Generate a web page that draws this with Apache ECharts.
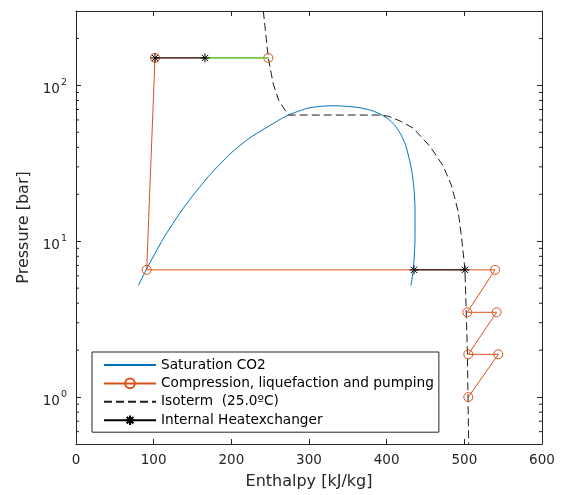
<!DOCTYPE html>
<html>
<head>
<meta charset="utf-8">
<script src="https://cdn.jsdelivr.net/npm/echarts@6/dist/echarts.min.js"></script>
<style>html,body{margin:0;padding:0;background:#fff}#c{width:564px;height:495px}</style>
</head>
<body>
<div id="c"></div>
<script>
// Saturation dome of CO2 (enthalpy kJ/kg, pressure bar)
const satH = [80.2, 91, 112.4, 131.7, 151, 172.5, 198.3, 224, 262.6, 273.3, 297, 314, 331.3, 348, 365.6, 381.1, 394, 404.3, 412, 418.4, 424.2, 428.7, 432.6, 435.2, 436.5, 436.5, 434.3, 431.3];
const satP = [5.2, 6.65, 10.4, 14.66, 19.8, 26.7, 36.3, 46.1, 60.4, 64.5, 71.1, 73.3, 74, 73.4, 71.8, 68.9, 64.5, 59.6, 54.2, 48.2, 41.6, 34.4, 27.7, 21.6, 16.1, 10.4, 6.55, 5.2];
// Compression, liquefaction and pumping
const compH = [505.1, 543.7, 505.1, 541.6, 503.8, 539.5, 91, 101.7, 247.6];
const compP = [1.0, 1.88, 1.88, 3.5, 3.5, 6.55, 6.55, 150, 150];
// Isotherm 25 °C
const isoH = [241.2, 247.6, 254, 261, 273.3, 393.6, 404, 419, 434.3, 455.8, 472.9, 483.7, 492.2, 496.6, 500.8, 503.8, 505.6];
const isoP = [300, 150, 102, 80, 64.5, 64.5, 63, 58.5, 53.1, 40.6, 30.3, 22.6, 15.4, 10.4, 6.55, 2.09, 0.5];
// Internal heat exchanger (two segments)
const hxHighH = [101.7, 166.1];
const hxHighP = [150, 150];
const hxLowH = [435.2, 500.8];
const hxLowP = [6.55, 6.55];
// Green segment
const greenH = [166.1, 247.6];
const greenP = [150, 150];
// Axis ticks
const xTicks = [0, 100, 200, 300, 400, 500, 600];
const yMinorTicks = [0.6, 0.7, 0.8, 0.9, 2, 3, 4, 5, 6, 7, 8, 9, 20, 30, 40, 50, 60, 70, 80, 90, 200];
const seriesNames = ['Saturation CO2', 'Compression, liquefaction and pumping', 'Isoterm  (25.0ºC)', 'Internal Heatexchanger'];

const zip = (a, b) => a.map((v, i) => [v, b[i]]);
const AX = '#262626';
const FONT = 'DejaVu Sans';
const STAR = 'path://M0,5L10,5M5,0L5,10M1.5,1.5L8.5,8.5M8.5,1.5L1.5,8.5';

const chart = echarts.init(document.getElementById('c'), null, {renderer: 'canvas'});

const xCommon = {
  type: 'value', min: xTicks[0], max: xTicks[xTicks.length - 1], interval: 100,
  axisLine: {show: true, onZero: false, lineStyle: {color: AX, width: 1}},
  axisTick: {show: true, inside: true, length: 5, lineStyle: {color: AX}},
  splitLine: {show: false}
};
const yCommon = {
  type: 'log', logBase: 10, min: 0.5, max: 300,
  axisLine: {show: true, onZero: false, lineStyle: {color: AX, width: 1}},
  axisTick: {show: true, inside: true, length: 5, lineStyle: {color: AX}},
  splitLine: {show: false}, minorTick: {show: false}
};

chart.setOption({
  animation: false,
  backgroundColor: '#fff',
  textStyle: {fontFamily: FONT},
  grid: {left: 76, right: 22, top: 11, bottom: 49, containLabel: false},
  xAxis: [
    Object.assign({}, xCommon, {
      position: 'bottom',
      axisLabel: {color: AX, fontFamily: FONT, fontSize: 13.5, margin: 9},
      name: 'Enthalpy [kJ/kg]', nameLocation: 'middle', nameGap: 30,
      nameTextStyle: {color: AX, fontFamily: FONT, fontSize: 16}
    }),
    Object.assign({}, xCommon, {position: 'top', axisLabel: {show: false}})
  ],
  yAxis: [
    Object.assign({}, yCommon, {
      position: 'left',
      axisLabel: {
        showMinLabel: false, showMaxLabel: false, margin: 9,
        formatter: v => '{b|10}{s|' + Math.round(Math.log10(v)) + '}',
        rich: {
          b: {color: AX, fontFamily: FONT, fontSize: 13.5, lineHeight: 22, verticalAlign: 'bottom'},
          s: {color: AX, fontFamily: FONT, fontSize: 9.5, lineHeight: 22, verticalAlign: 'top', padding: [3, 0, 0, 1]}
        }
      },
      name: 'Pressure [bar]', nameLocation: 'middle', nameGap: 43,
      nameTextStyle: {color: AX, fontFamily: FONT, fontSize: 16}
    }),
    Object.assign({}, yCommon, {position: 'right', axisLabel: {show: false}})
  ],
  legend: {
    data: [
      {name: seriesNames[0], itemStyle: {opacity: 0}},
      {name: seriesNames[1]},
      {name: seriesNames[2], itemStyle: {opacity: 0}},
      {name: seriesNames[3]}
    ],
    orient: 'vertical', left: 92, top: 352,
    padding: [6, 5, 5, 11],
    itemWidth: 52, itemHeight: 12, itemGap: 4.4,
    borderColor: AX, borderWidth: 1, backgroundColor: '#fff',
    textStyle: {color: '#000', fontFamily: FONT, fontSize: 13.7, lineHeight: 12},
    selectedMode: false
  },
  series: [
    {
      name: 'minorTicks', type: 'custom', xAxisIndex: 0, yAxisIndex: 0, silent: true, clip: false, z: 5,
      data: yMinorTicks.map(v => [0, v]),
      renderItem: (params, api) => {
        const cs = params.coordSys;
        const y = api.coord([0, api.value(1)])[1];
        const st = {stroke: AX, lineWidth: 1};
        return {type: 'group', children: [
          {type: 'line', shape: {x1: cs.x, y1: y, x2: cs.x + 3, y2: y}, style: st},
          {type: 'line', shape: {x1: cs.x + cs.width - 3, y1: y, x2: cs.x + cs.width, y2: y}, style: st}
        ]};
      }
    },
    {
      name: seriesNames[0], type: 'line', data: zip(satH, satP), smooth: 0.2,
      symbol: 'none', lineStyle: {color: '#0072BD', width: 1}, itemStyle: {color: '#0072BD'}, z: 2
    },
    {
      name: seriesNames[1], type: 'line', data: zip(compH, compP),
      symbol: 'circle', symbolSize: 9, showSymbol: true,
      lineStyle: {color: '#D95319', width: 1},
      itemStyle: {color: 'rgba(255,255,255,0)', borderColor: '#D95319', borderWidth: 1}, z: 3
    },
    {
      name: seriesNames[2], type: 'line', data: zip(isoH, isoP),
      symbol: 'none', lineStyle: {color: '#1e1e1e', width: 1, type: [8, 4]}, itemStyle: {color: '#1e1e1e'}, z: 3
    },
    {
      name: seriesNames[3], type: 'line', data: zip(hxHighH, hxHighP),
      symbol: STAR, symbolSize: 9, showSymbol: true,
      lineStyle: {color: '#000', width: 1},
      itemStyle: {color: '#000', borderColor: '#000', borderWidth: 1}, z: 4
    },
    {
      name: seriesNames[3], type: 'line', data: zip(hxLowH, hxLowP),
      symbol: STAR, symbolSize: 9, showSymbol: true,
      lineStyle: {color: '#000', width: 1},
      itemStyle: {color: '#000', borderColor: '#000', borderWidth: 1}, z: 4
    },
    {
      name: 'green', type: 'line', data: zip(greenH, greenP),
      symbol: 'none', lineStyle: {color: '#1fef1f', width: 1}, itemStyle: {color: '#1fef1f'}, z: 4
    }
  ]
});
</script>
</body>
</html>
